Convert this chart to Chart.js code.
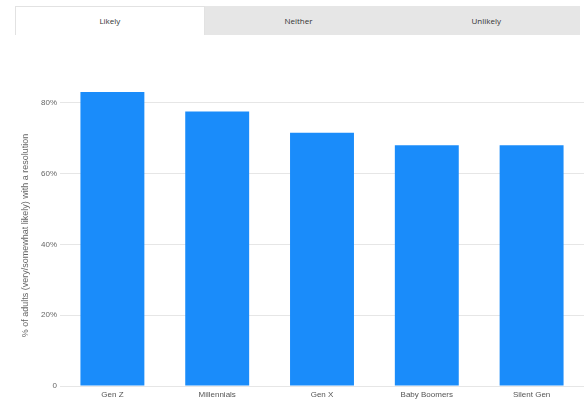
<!DOCTYPE html>
<html>
<head>
<meta charset="utf-8">
<script src="https://cdn.jsdelivr.net/npm/chart.js@4"></script>
<style>
  body { margin: 0; background: #fff; font-family: "Open Sans", "DejaVu Sans", sans-serif; }
  #wrap { position: relative; width: 584px; height: 402px; }
  #tabs { position: absolute; left: 15px; top: 6px; width: 565px; height: 29px; background: #e6e6e6; display: flex; }
  .tab { flex: 1; font-size: 8px; color: #333; text-align: center; line-height: 29px; }
  .tab.on { background: #fff; border: 1px solid #e2e2e2; border-bottom: none; line-height: 27px; }
  canvas { position: absolute; left: 0; top: 0; }
</style>
</head>
<body>
<div id="wrap">
  <canvas id="myChart" width="584" height="402"></canvas>
  <div id="tabs">
    <div class="tab on">Likely</div>
    <div class="tab">Neither</div>
    <div class="tab">Unlikely</div>
  </div>
</div>
<script>
const generations = ["Gen Z", "Millennials", "Gen X", "Baby Boomers", "Silent Gen"];
const likelyShare = [83, 77.5, 71.5, 68, 68];
const yTicks = [0, 20, 40, 60, 80];

const ctx = document.getElementById('myChart').getContext('2d');

config = {
    type: 'bar',
    data: {
        labels: generations,
        datasets: [{
            label: "Likely",
            data: likelyShare,
            backgroundColor: '#1a8cfa',
            categoryPercentage: 1,
            barPercentage: 0.61
        }]
    },
    options: {
        responsive: false,
        animation: false,
        layout: { padding: { top: 85, right: 0, left: 20, bottom: 0 } },
        plugins: { legend: { display: false }, tooltip: { enabled: false } },
        scales: {
            x: {
                grid: { display: false, drawTicks: false },
                border: { display: false },
                ticks: { color: '#555', font: { size: 8 }, padding: 4, maxRotation: 0 },
                afterFit: function (scale) { scale.height = 16; }
            },
            y: {
                min: 0,
                max: 85,
                afterBuildTicks: function (scale) {
                    scale.ticks = yTicks.map(v => ({ value: v }));
                },
                grid: { color: '#e6e6e6', drawTicks: false },
                border: { display: false },
                ticks: {
                    color: '#666',
                    font: { size: 8 },
                    padding: 3,
                    callback: v => v === 0 ? '0' : v + '%'
                },
                title: {
                    display: true,
                    text: '% of adults (very/somewhat likely) with a resolution',
                    color: '#666',
                    font: { size: 9 },
                    padding: 0
                },
                afterFit: function (scale) { scale.width = 40; }
            }
        }
    }
};

const myChart = new Chart(ctx, config);
</script>
</body>
</html>
